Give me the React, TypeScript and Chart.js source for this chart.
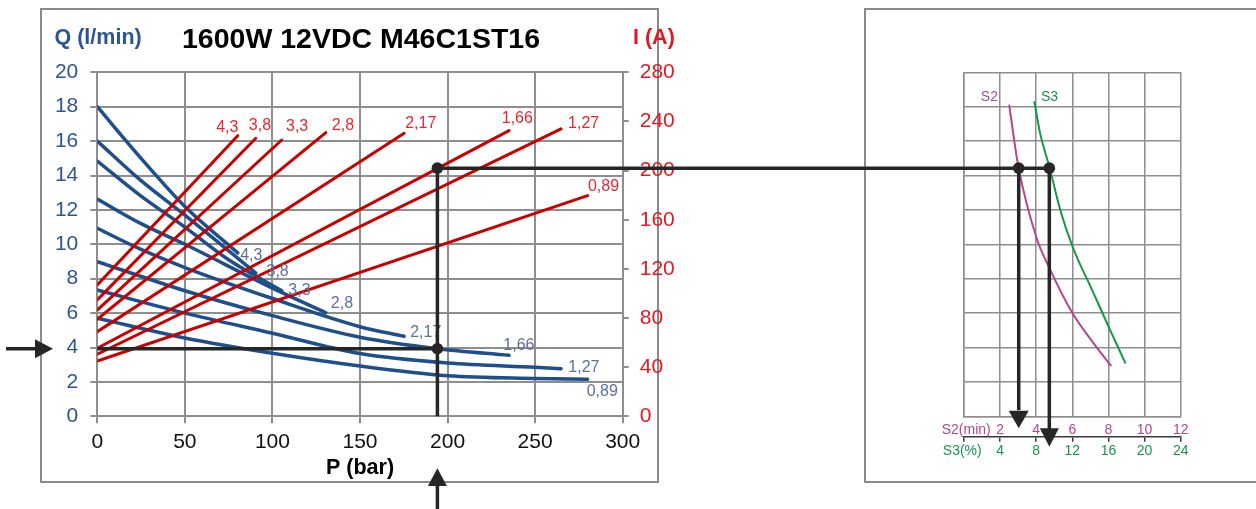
import React, { useEffect, useRef } from 'react';
import { Chart, registerables } from 'chart.js';

Chart.register(...registerables);

const FONT = '"Liberation Sans", Arial, Helvetica, sans-serif';

// ---------------- data ----------------
const chartTitle = '1600W 12VDC M46C1ST16';
const motorLabels = ['4,3', '3,8', '3,3', '2,8', '2,17', '1,66', '1,27', '0,89'];

// Q (l/min) vs P (bar) for each motor
const flow43 = [[0, 18.0], [25, 15.0], [50, 12.2], [80.2, 9.5]];
const flow38 = [[0, 16.0], [25, 13.7], [50, 11.7], [90.5, 8.33]];
const flow33 = [[0, 14.84], [25, 12.8], [50, 11.0], [75, 9.1], [105.3, 7.3]];
const flow28 = [[0, 12.63], [25, 11.2], [50, 10.0], [100, 7.45], [130.5, 6.02]];
const flow217 = [[0, 10.93], [25, 9.7], [50, 8.65], [100, 6.85], [150, 5.21], [175.2, 4.65]];
const flow166 = [[0, 8.99], [50, 7.3], [100, 5.85], [150, 4.6], [194.2, 3.93], [235.1, 3.55]];
const flow127 = [[0, 7.34], [50, 6.0], [100, 4.83], [150, 3.65], [200, 3.1], [250, 2.85], [264.8, 2.77]];
const flow089 = [[0, 5.7], [50, 4.55], [100, 3.66], [150, 2.92], [200, 2.36], [250, 2.2], [280, 2.15]];
const flowCurves = [flow43, flow38, flow33, flow28, flow217, flow166, flow127, flow089];

// I (A) vs P (bar): straight lines
const currentAtZero = [106.9, 94.7, 86.5, 79.0, 68.9, 55.4, 50.5, 45.0];
const currentEndPressure = [80.2, 90.5, 105.3, 130.5, 175.2, 235.1, 264.8, 280.0];
const currentAtEnd = [228.4, 226.3, 224.9, 230.9, 230.4, 232.5, 233.9, 179.6];

// duty curves: [S2 (min) or S3 (%), I (A)]
const s2Curve = [[2.5, 253.7], [2.78, 224.7], [3.02, 202.4], [4.0, 146], [4.7, 121.6], [6.02, 83.6], [7.19, 59.2], [8.15, 41]];
const s3Curve = [[7.78, 256.4], [8.44, 230.1], [9.48, 202.4], [10.67, 167.7], [12.04, 137.8], [14.37, 99.9], [16.2, 70], [17.9, 42.9]];

// worked example
const operatingP = 194.2;
const operatingQ = 3.93;
const operatingI = 202;
const operatingS2 = 3.03;
const operatingS3 = 9.45;

// ---------------- styling ----------------
const BLUE_LINE = '#1f4e8c';
const BLUE_TEXT = '#2c5592';
const BLUE_LABEL = '#5d6f9b';
const RED_LINE = '#c80000';
const RED_TEXT = '#e01a22';
const RED_LABEL = '#e8262e';
const GRID = '#8e8e8e';
const FRAME = '#8a8a8a';
const GUIDE = '#262626';
const S2_COLOR = '#b5468d';
const S3_COLOR = '#16964a';

// label offsets in pixels from each curve end (left edge, vertical middle)
const blueLabelOffset = [[2.4, 2.3], [10.7, -1.5], [6.6, 0], [5, -9], [6, -3.3], [-5.7, -9.5], [7.3, -1.5], [-1, 12]];
const redLabelOffset = [[-21.6, -8.5], [-7, -12.8], [4.3, -13.5], [6, -7], [1, -9.8], [-7.3, -11.7], [7, -5], [0.3, -9]];

const LEFT_W = 760;
const RIGHT_W = 1256 - LEFT_W;
const H = 509;

function triangle(ctx: CanvasRenderingContext2D, pts: number[][]) {
  ctx.beginPath();
  ctx.moveTo(pts[0][0], pts[0][1]);
  ctx.lineTo(pts[1][0], pts[1][1]);
  ctx.lineTo(pts[2][0], pts[2][1]);
  ctx.closePath();
  ctx.fill();
}

function dot(ctx: CanvasRenderingContext2D, x: number, y: number) {
  ctx.beginPath();
  ctx.arc(x, y, 5.8, 0, Math.PI * 2);
  ctx.fill();
}

const leftDecor = {
  id: 'leftDecor',
  beforeDraw(chart: any) {
    const { ctx, chartArea } = chart;
    ctx.save();
    ctx.fillStyle = '#fff';
    ctx.fillRect(0, 0, chart.width, chart.height);
    ctx.strokeStyle = FRAME;
    ctx.lineWidth = 2;
    ctx.strokeRect(41, 9, 617, 473);
    ctx.textBaseline = 'alphabetic';
    ctx.textAlign = 'center';
    ctx.fillStyle = '#000';
    ctx.font = `bold 28.5px ${FONT}`;
    ctx.fillText(chartTitle, 361, 48);
    ctx.textBaseline = 'middle';
    ctx.textAlign = 'left';
    ctx.font = `bold 21.5px ${FONT}`;
    ctx.fillStyle = BLUE_TEXT;
    ctx.fillText('Q (l/min)', 54.5, 38);
    ctx.fillStyle = RED_TEXT;
    ctx.fillText('I (A)', 633, 38);
    ctx.fillStyle = '#000';
    ctx.textAlign = 'center';
    ctx.fillText('P (bar)', (chartArea.left + chartArea.right) / 2, 468);
    ctx.restore();
  },
  afterDatasetsDraw(chart: any) {
    const { ctx, chartArea } = chart;
    const { x, y, y2 } = chart.scales;
    ctx.save();
    ctx.font = `16px ${FONT}`;
    ctx.textBaseline = 'middle';
    ctx.textAlign = 'left';
    motorLabels.forEach((lab, i) => {
      const pts = flowCurves[i];
      const end = pts[pts.length - 1];
      ctx.fillStyle = BLUE_LABEL;
      ctx.fillText(lab, x.getPixelForValue(end[0]) + blueLabelOffset[i][0], y.getPixelForValue(end[1]) + blueLabelOffset[i][1]);
      ctx.fillStyle = RED_LABEL;
      ctx.fillText(lab, x.getPixelForValue(currentEndPressure[i]) + redLabelOffset[i][0], y2.getPixelForValue(currentAtEnd[i]) + redLabelOffset[i][1]);
    });

    const px = x.getPixelForValue(operatingP);
    const qy = y.getPixelForValue(operatingQ);
    const iy = y2.getPixelForValue(operatingI);
    ctx.strokeStyle = GUIDE;
    ctx.fillStyle = GUIDE;
    ctx.lineWidth = 3.5;
    ctx.beginPath();
    ctx.moveTo(chartArea.left, qy);
    ctx.lineTo(px, qy);
    ctx.moveTo(px, chartArea.bottom);
    ctx.lineTo(px, iy);
    ctx.lineTo(chart.width, iy);
    // left arrow shaft
    ctx.moveTo(6, qy);
    ctx.lineTo(38, qy);
    // bottom arrow shaft
    ctx.moveTo(px, chart.height);
    ctx.lineTo(px, 484);
    ctx.stroke();
    triangle(ctx, [[53, qy], [35, qy - 9.5], [35, qy + 9.5]]);
    triangle(ctx, [[px, 468.3], [px - 9.5, 486], [px + 9.5, 486]]);
    dot(ctx, px, qy);
    dot(ctx, px, iy);
    ctx.restore();
  },
};

const rightDecor = {
  id: 'rightDecor',
  beforeDraw(chart: any) {
    const { ctx, chartArea } = chart;
    ctx.save();
    ctx.fillStyle = '#fff';
    ctx.fillRect(0, 0, chart.width, chart.height);
    ctx.strokeStyle = FRAME;
    ctx.lineWidth = 2;
    ctx.strokeRect(105, 9, 500, 473);
    ctx.font = `14px ${FONT}`;
    ctx.textBaseline = 'middle';
    ctx.textAlign = 'right';
    ctx.fillStyle = S2_COLOR;
    ctx.fillText('S2(min)', chartArea.left + 26.7, 430);
    ctx.fillStyle = S3_COLOR;
    ctx.fillText('S3(%)', chartArea.left + 17.7, 451.5);
    ctx.restore();
  },
  afterDatasetsDraw(chart: any) {
    const { ctx, chartArea } = chart;
    const { x, x2, y } = chart.scales;
    ctx.save();
    ctx.font = `14px ${FONT}`;
    ctx.textBaseline = 'middle';
    ctx.textAlign = 'left';
    ctx.fillStyle = S2_COLOR;
    ctx.fillText('S2', x.getPixelForValue(s2Curve[0][0]) - 28.3, y.getPixelForValue(s2Curve[0][1]) - 7.3);
    ctx.fillStyle = S3_COLOR;
    ctx.fillText('S3', x2.getPixelForValue(s3Curve[0][0]) + 6.7, y.getPixelForValue(s3Curve[0][1]) - 4);

    const iy = y.getPixelForValue(operatingI);
    const xs2 = x.getPixelForValue(operatingS2);
    const xs3 = x2.getPixelForValue(operatingS3);
    const b = chartArea.bottom;
    ctx.strokeStyle = GUIDE;
    ctx.fillStyle = GUIDE;
    ctx.lineWidth = 3.5;
    ctx.beginPath();
    ctx.moveTo(0, iy);
    ctx.lineTo(xs3, iy);
    ctx.moveTo(xs2, iy);
    ctx.lineTo(xs2, b - 6);
    ctx.moveTo(xs3, iy);
    ctx.lineTo(xs3, b + 13);
    ctx.stroke();
    triangle(ctx, [[xs2, b + 12], [xs2 - 10, b - 5.6], [xs2 + 10, b - 5.6]]);
    triangle(ctx, [[xs3, b + 30.4], [xs3 - 9.5, b + 12], [xs3 + 9.5, b + 12]]);
    dot(ctx, xs2, iy);
    dot(ctx, xs3, iy);
    ctx.restore();
  },
};

export default function App() {
  const leftRef = useRef<HTMLCanvasElement>(null);
  const rightRef = useRef<HTMLCanvasElement>(null);

  useEffect(() => {
    const tickFont = { family: FONT, size: 21 };
    const blueSets = flowCurves.map((pts, i) => ({
      label: 'Q ' + motorLabels[i],
      data: pts.map(([px, q]) => ({ x: px, y: q })),
      xAxisID: 'x',
      yAxisID: 'y',
      borderColor: BLUE_LINE,
      borderWidth: 3.5,
      borderCapStyle: 'round',
      pointRadius: 0,
      cubicInterpolationMode: 'monotone',
      fill: false,
      order: 2,
    }));
    const redSets = motorLabels.map((lab, i) => ({
      label: 'I ' + lab,
      data: [
        { x: 0, y: currentAtZero[i] },
        { x: currentEndPressure[i], y: currentAtEnd[i] },
      ],
      xAxisID: 'x',
      yAxisID: 'y2',
      borderColor: RED_LINE,
      borderWidth: 3,
      borderCapStyle: 'round',
      pointRadius: 0,
      fill: false,
      order: 1,
    }));

    const left = new Chart(leftRef.current as HTMLCanvasElement, {
      type: 'line',
      data: { datasets: [...blueSets, ...redSets] as any },
      options: {
        responsive: false,
        animation: false,
        events: [],
        layout: { padding: { left: 0, right: 77.3, top: 72.3, bottom: 42.7 } },
        plugins: { legend: { display: false }, tooltip: { enabled: false } },
        scales: {
          x: {
            type: 'linear',
            position: 'bottom',
            min: 0,
            max: 300,
            ticks: { stepSize: 50, color: '#111', font: tickFont, padding: 6, maxRotation: 0 },
            grid: { color: GRID, lineWidth: 2, tickLength: 7 },
            border: { color: GRID, width: 2 },
            afterFit: (s: any) => { s.height = 50; },
          },
          y: {
            type: 'linear',
            position: 'left',
            min: 0,
            max: 20,
            ticks: { stepSize: 2, color: BLUE_TEXT, font: tickFont, padding: 12 },
            grid: { color: GRID, lineWidth: 2, tickLength: 7 },
            border: { color: GRID, width: 2 },
            afterFit: (s: any) => { s.width = 97.3; },
          },
          y2: {
            type: 'linear',
            position: 'right',
            min: 0,
            max: 280,
            ticks: { stepSize: 40, color: RED_TEXT, font: tickFont, padding: 11 },
            grid: { drawOnChartArea: false, color: GRID, lineWidth: 2, tickLength: 6 },
            border: { color: GRID, width: 2 },
            afterFit: (s: any) => { s.width = 60; },
          },
        },
      } as any,
      plugins: [leftDecor],
    });

    const right = new Chart(rightRef.current as HTMLCanvasElement, {
      type: 'line',
      data: {
        datasets: [
          {
            label: 'S2',
            data: s2Curve.map(([s, i]) => ({ x: s, y: i })),
            xAxisID: 'x',
            yAxisID: 'y',
            borderColor: S2_COLOR,
            borderWidth: 2,
            pointRadius: 0,
            cubicInterpolationMode: 'monotone',
            fill: false,
          },
          {
            label: 'S3',
            data: s3Curve.map(([s, i]) => ({ x: s, y: i })),
            xAxisID: 'x2',
            yAxisID: 'y',
            borderColor: S3_COLOR,
            borderWidth: 2,
            pointRadius: 0,
            cubicInterpolationMode: 'monotone',
            fill: false,
          },
        ] as any,
      },
      options: {
        responsive: false,
        animation: false,
        events: [],
        layout: { padding: { left: 204, right: 75.3, top: 72.3, bottom: 42.3 } },
        plugins: { legend: { display: false }, tooltip: { enabled: false } },
        scales: {
          x: {
            type: 'linear',
            position: 'bottom',
            weight: 0,
            min: 0,
            max: 12,
            ticks: {
              stepSize: 2,
              color: S2_COLOR,
              font: { family: FONT, size: 14 },
              padding: 5,
              maxRotation: 0,
              autoSkip: false,
              callback: (v: any) => (v === 0 ? '' : String(v)),
            },
            grid: { color: GRID, lineWidth: 1.5, drawTicks: false },
            border: { color: GRID, width: 1.5 },
            afterFit: (s: any) => { s.height = 20.4; },
          },
          x2: {
            type: 'linear',
            position: 'bottom',
            weight: 1,
            min: 0,
            max: 24,
            ticks: {
              stepSize: 4,
              color: S3_COLOR,
              font: { family: FONT, size: 14 },
              padding: 1.4,
              maxRotation: 0,
              autoSkip: false,
              callback: (v: any) => (v === 0 ? '' : String(v)),
            },
            grid: { drawOnChartArea: false, color: '#3a3a3a', lineWidth: 1.5, tickLength: 5 },
            border: { color: '#3a3a3a', width: 1.5 },
            afterFit: (s: any) => { s.height = 30; },
          },
          y: {
            type: 'linear',
            position: 'left',
            min: 0,
            max: 280,
            ticks: { stepSize: 28, display: false },
            grid: { color: GRID, lineWidth: 1.5, drawTicks: false },
            border: { color: GRID, width: 1.5 },
            afterFit: (s: any) => { s.width = 0; },
          },
        },
      } as any,
      plugins: [rightDecor],
    });

    return () => {
      left.destroy();
      right.destroy();
    };
  }, []);

  return (
    <div style={{ position: 'absolute', left: 0, top: 0, width: 1256, height: H, background: '#fff' }}>
      <canvas ref={leftRef} width={LEFT_W} height={H} style={{ position: 'absolute', left: 0, top: 0 }} />
      <canvas ref={rightRef} width={RIGHT_W} height={H} style={{ position: 'absolute', left: LEFT_W, top: 0 }} />
    </div>
  );
}
